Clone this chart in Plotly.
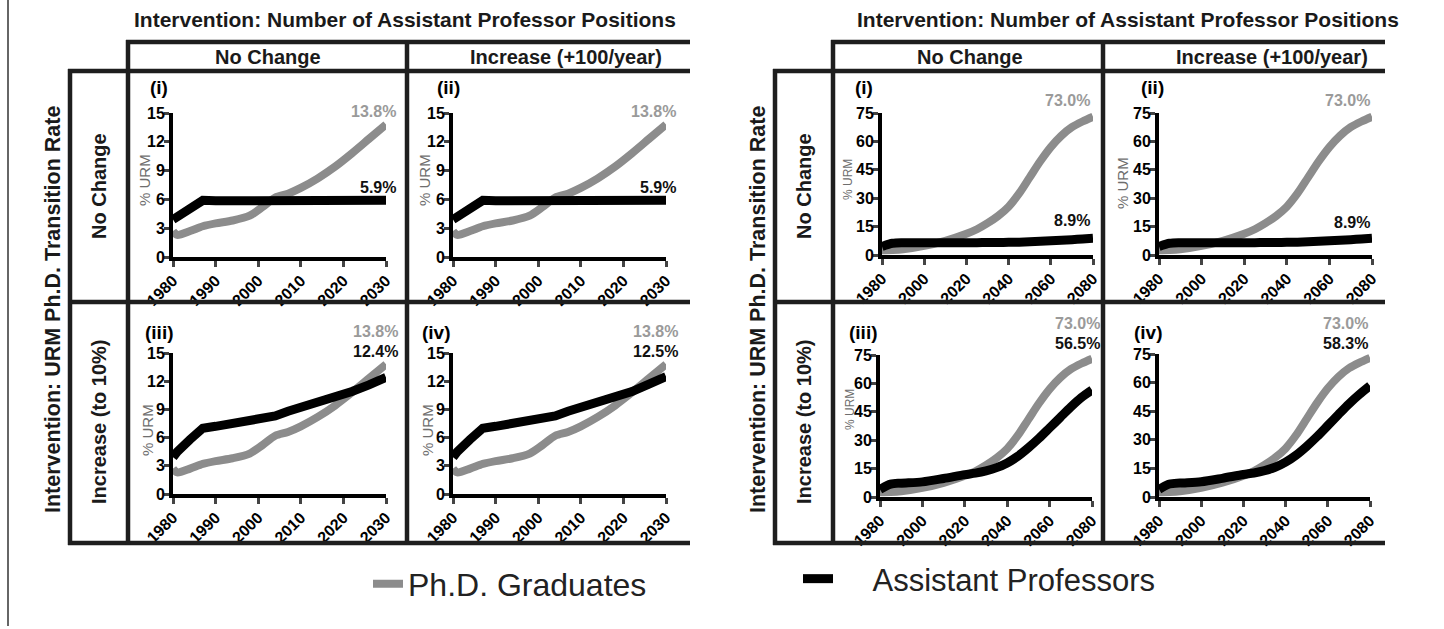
import plotly.graph_objects as go

W, H = 1444, 629
FONT = "Liberation Sans, Arial, sans-serif"
GRAY = "#8c8c8c"
BLACK = "#000000"

# ---------------- data ----------------
years_short = [1980, 1981, 1984, 1987, 1990, 1994, 1998, 2001, 2004, 2007, 2010, 2014, 2018, 2022, 2026, 2030]
phd_short = [2.7, 2.3, 2.7, 3.2, 3.5, 3.8, 4.3, 5.2, 6.2, 6.6, 7.2, 8.2, 9.4, 10.8, 12.3, 13.8]
ap_short_none = [3.9, 4.2, 5.0, 5.9, 5.85, 5.85, 5.85, 5.85, 5.85, 5.85, 5.85, 5.85, 5.9, 5.9, 5.9, 5.9]
ap_short_pos = [3.9, 4.2, 5.0, 5.9, 5.85, 5.85, 5.85, 5.85, 5.85, 5.85, 5.85, 5.85, 5.9, 5.9, 5.9, 5.9]
ap_short_trans = [3.9, 4.5, 5.8, 7.0, 7.2, 7.5, 7.7, 7.9, 8.3, 8.8, 9.2, 9.7, 10.2, 10.9, 11.6, 12.4]
ap_short_both = [3.9, 4.5, 5.8, 7.0, 7.2, 7.5, 7.7, 7.9, 8.3, 8.8, 9.2, 9.7, 10.2, 10.9, 11.7, 12.5]

years_long = [1980, 1985, 1990, 2000, 2010, 2020, 2025, 2030, 2035, 2040, 2045, 2050, 2055, 2060, 2065, 2070, 2075, 2080]
phd_long = [2.5, 2.6, 3.0, 4.8, 7.5, 11.2, 13.6, 16.8, 20.6, 25.5, 32.5, 41.0, 49.5, 57.0, 63.0, 67.5, 70.5, 73.0]
ap_long_none = [4.5, 6.2, 6.5, 6.5, 6.5, 6.5, 6.5, 6.6, 6.6, 6.7, 6.8, 7.0, 7.2, 7.5, 7.8, 8.1, 8.5, 8.9]
ap_long_pos = [4.5, 6.2, 6.5, 6.5, 6.5, 6.5, 6.5, 6.6, 6.6, 6.7, 6.8, 7.0, 7.2, 7.5, 7.8, 8.1, 8.5, 8.9]
ap_long_trans = [4.0, 6.8, 7.3, 8.0, 9.8, 11.8, 12.6, 13.8, 15.5, 18.0, 21.5, 26.0, 31.0, 36.5, 42.0, 47.5, 52.5, 56.5]
ap_long_both = [4.0, 6.8, 7.3, 8.0, 9.8, 11.8, 12.6, 13.8, 15.6, 18.3, 22.0, 26.6, 31.8, 37.5, 43.2, 48.8, 53.8, 58.3]

short_xticks = [1980, 1990, 2000, 2010, 2020, 2030]
short_yticks = [0, 3, 6, 9, 12, 15]
long_xticks = [1980, 2000, 2020, 2040, 2060, 2080]
long_yticks = [0, 15, 30, 45, 60, 75]

panel_labels = ["(i)", "(ii)", "(iii)", "(iv)"]
phd_end_short = "13.8%"
phd_end_long = "73.0%"
ap_end_short = ["5.9%", "5.9%", "12.4%", "12.5%"]
ap_end_long = ["8.9%", "8.9%", "56.5%", "58.3%"]
series_names = ["Ph.D. Graduates", "Assistant Professors"]

# ---------------- layout geometry (pixels) ----------------
boxes = [
    (173, 386, 113, 257), (453, 666, 113, 257), (173, 386, 353, 494), (453, 666, 353, 494),
    (882, 1093, 113, 255), (1159, 1372, 113, 255), (880, 1092, 355, 497), (1159, 1370, 354, 497),
]

def px(x):
    return x / W

def py(y):
    return 1 - y / H

fig = go.Figure()
layout = {}
annotations = []
shapes = []

ap_short_sets = [ap_short_none, ap_short_pos, ap_short_trans, ap_short_both]
ap_long_sets = [ap_long_none, ap_long_pos, ap_long_trans, ap_long_both]

for i in range(8):
    n = i + 1
    xa = "x" if n == 1 else f"x{n}"
    ya = "y" if n == 1 else f"y{n}"
    x0, x1, yt, yb = boxes[i]
    long = i >= 4
    k = i % 4
    xs = years_long if long else years_short
    g = phd_long if long else phd_short
    b = ap_long_sets[k] if long else ap_short_sets[k]
    fig.add_trace(go.Scatter(
        x=xs, y=g, mode="lines", xaxis=xa, yaxis=ya,
        line=dict(color=GRAY, width=8, shape="spline", smoothing=0.8),
        name=series_names[0], legend="legend", showlegend=(i == 0)))
    fig.add_trace(go.Scatter(
        x=xs, y=b, mode="lines", xaxis=xa, yaxis=ya,
        line=dict(color=BLACK, width=9, shape="spline" if long else "linear", smoothing=0.8),
        name="\u00a0\u00a0\u00a0\u00a0" + series_names[1], legend="legend2", showlegend=(i == 0)))
    xr = [1980, 2080] if long else [1980, 2030]
    yr = [0, 75] if long else [0, 15]
    tickfont = dict(family=FONT, size=16, color="black", weight="bold")
    key_x = "xaxis" if n == 1 else f"xaxis{n}"
    key_y = "yaxis" if n == 1 else f"yaxis{n}"
    layout[key_x] = dict(domain=[px(x0), px(x1)], range=xr, anchor=ya, automargin=False,
                         tickvals=long_xticks if long else short_xticks,
                         tickangle=-45, ticks="outside", ticklen=6, tickwidth=3,
                         showline=True, linewidth=4, linecolor="black",
                         showgrid=False, zeroline=False, tickfont=tickfont, fixedrange=True,
                         ticklabelstandoff=-2)
    layout[key_y] = dict(domain=[py(yb), py(yt)], range=yr, anchor=xa, automargin=False,
                         tickvals=long_yticks if long else short_yticks,
                         ticks="outside", ticklen=5, tickwidth=3,
                         showline=True, linewidth=4, linecolor="black",
                         showgrid=False, zeroline=False, tickfont=tickfont, fixedrange=True,
                         ticklabelstandoff=-4)

label_pos = [(148, 88), (435, 88), (143, 332), (420, 332),
             (853, 88), (1139, 88), (847, 332), (1132, 332)]
for i, (lx, ly) in enumerate(label_pos):
    annotations.append(dict(text=panel_labels[i % 4], x=px(lx), y=py(ly), xref="paper", yref="paper",
                            xanchor="left", yanchor="middle", showarrow=False,
                            font=dict(family=FONT, size=19, color="black", weight="bold")))

urm_pos = [(145, 180, 15), (425, 180, 15), (147, 430, 15), (427, 430, 15),
           (848, 180, 12), (1122, 183, 15), (850, 410, 12)]
for ux, uy, us in urm_pos:
    annotations.append(dict(text="% URM", x=px(ux), y=py(uy), xref="paper", yref="paper",
                            xanchor="center", yanchor="middle", textangle=-90, showarrow=False,
                            font=dict(family=FONT, size=us, color="#6e6e6e")))

val_pos = [(398, 112, 187), (678, 112, 187), (400, 331, 351), (680, 331, 351),
           (1092, 100, 220), (1372, 100, 222), (1102, 323, 343), (1370, 323, 343)]
for i, (vx, gy, by) in enumerate(val_pos):
    long = i >= 4
    annotations.append(dict(text=phd_end_long if long else phd_end_short, x=px(vx), y=py(gy),
                            xref="paper", yref="paper", xanchor="right", yanchor="middle",
                            showarrow=False, font=dict(family=FONT, size=16, color="#9a9a9a", weight="bold")))
    annotations.append(dict(text=(ap_end_long if long else ap_end_short)[i % 4], x=px(vx), y=py(by),
                            xref="paper", yref="paper", xanchor="right", yanchor="middle",
                            showarrow=False, font=dict(family=FONT, size=16, color="#111111", weight="bold")))

LC = "#1e1e1e"
LW = 4.5
halves = [
    (128, 407, 690, 70, 53, 99, 405, 268, 566),
    (833, 1103, 1385, 775, 758, 804, 1128, 970, 1272),
]
for (c0, cmid, cend, rl, tx, rx, tcx, ncx, icx) in halves:
    def hline(y, xa, xb):
        shapes.append(dict(type="line", xref="paper", yref="paper", x0=px(xa), x1=px(xb),
                           y0=py(y), y1=py(y), line=dict(color=LC, width=LW)))
    def vline(x, ya, yb):
        shapes.append(dict(type="line", xref="paper", yref="paper", x0=px(x), x1=px(x),
                           y0=py(ya), y1=py(yb), line=dict(color=LC, width=LW)))
    hline(42, c0 - 2, cend)
    hline(71, rl - 2, cend)
    hline(302, rl - 2, cend)
    hline(543, rl - 2, cend)
    vline(c0, 40, 545)
    vline(cmid, 40, 545)
    vline(rl, 69, 545)
    bold = dict(family=FONT, color="#1a1a1a", weight="bold")
    annotations.append(dict(text="Intervention: Number of Assistant Professor Positions",
                            x=px(tcx), y=py(20), xref="paper", yref="paper",
                            xanchor="center", yanchor="middle", showarrow=False, font=dict(size=21, **bold)))
    annotations.append(dict(text="No Change", x=px(ncx), y=py(57), xref="paper", yref="paper",
                            xanchor="center", yanchor="middle", showarrow=False, font=dict(size=20, **bold)))
    annotations.append(dict(text="Increase (+100/year)", x=px(icx), y=py(57), xref="paper",
                            yref="paper", xanchor="center", yanchor="middle", showarrow=False,
                            font=dict(size=20, **bold)))
    annotations.append(dict(text="No Change", x=px(rx), y=py(186), xref="paper", yref="paper",
                            xanchor="center", yanchor="middle", textangle=-90, showarrow=False,
                            font=dict(size=20, **bold)))
    annotations.append(dict(text="Increase (to 10%)", x=px(rx), y=py(422), xref="paper", yref="paper",
                            xanchor="center", yanchor="middle", textangle=-90, showarrow=False,
                            font=dict(size=20, **bold)))
    annotations.append(dict(text="Intervention: URM Ph.D. Transition Rate", x=px(tx), y=py(310),
                            xref="paper", yref="paper", xanchor="center", yanchor="middle",
                            textangle=-90, showarrow=False, font=dict(size=21.5, **bold)))

# thin left border of the original figure
shapes.append(dict(type="line", xref="paper", yref="paper", x0=px(8), x1=px(8), y0=py(0), y1=py(626),
                   line=dict(color="#333333", width=1.5)))

fig.update_layout(
    width=W, height=H, autosize=False, margin=dict(l=0, r=0, t=0, b=0, pad=0),
    paper_bgcolor="white", plot_bgcolor="white",
    font=dict(family=FONT, color="black"),
    annotations=annotations, shapes=shapes,
    legend=dict(x=px(368), y=py(584), xanchor="left", yanchor="middle", orientation="h",
                bgcolor="rgba(0,0,0,0)", font=dict(family=FONT, size=32, color="#222222")),
    legend2=dict(x=px(798), y=py(579), xanchor="left", yanchor="middle", orientation="h",
                 bgcolor="rgba(0,0,0,0)", font=dict(family=FONT, size=31, color="#222222")),
    **layout,
)

fig.write_html("out.html", config={"displayModeBar": False},
               post_script="document.body.style.margin='0';document.body.style.overflow='hidden';")
